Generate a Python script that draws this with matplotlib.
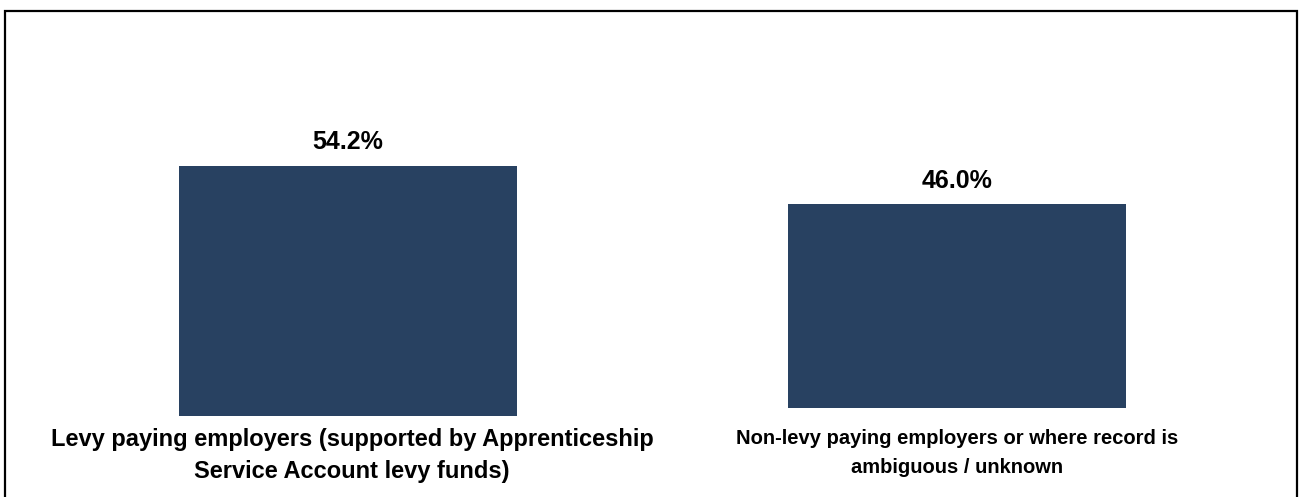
import matplotlib.pyplot as plt
from matplotlib.patches import Rectangle

plt.rcParams['font.family'] = ['Liberation Sans', 'DejaVu Sans']

categories = ["Levy paying employers (supported by Apprenticeship\nService Account levy funds)",
              "Non-levy paying employers or where record is\nambiguous / unknown"]
values = [54.2, 46.0]
value_labels = ["54.2%", "46.0%"]

bar_color = "#284161"
W, H = 1301, 497

fig = plt.figure(figsize=(W / 100, H / 100), dpi=100)

# outer frame (runs off the bottom edge)
fig.patches.append(Rectangle((5 / W, -0.05), 1292 / W, (H - 11) / H + 0.05,
                             transform=fig.transFigure, fill=False,
                             edgecolor="black", linewidth=1.6))

# each bar sits in its own panel:
# (left, bottom, width, px per unit, label pad, label size, line spacing, label x shift)
panels = [(98, 81.3, 500, 249.4 / 54.2, 9, 17, 1.5, 4),
          (707, 89.0, 500, 203.7 / 46.0, 15, 14.5, 1.7, 0)]
ymax = 60

for i, (left, bottom, width, scale, pad, fs, ls, dx) in enumerate(panels):
    ax = fig.add_axes([left / W, bottom / H, width / W, scale * ymax / H])
    ax.bar([0], [values[i]], width=338 / width, color=bar_color)
    ax.set_xlim(-0.5, 0.5)
    ax.set_ylim(0, ymax)
    ax.text(0, values[i] + 2.6, value_labels[i], ha="center", va="bottom",
            fontsize=18, fontweight="bold")
    ax.set_xticks([dx / width])
    ax.set_xticklabels([categories[i]], fontsize=fs, fontweight="bold",
                       linespacing=ls)
    ax.tick_params(axis="x", length=0, pad=pad)
    ax.set_yticks([])
    for s in ax.spines.values():
        s.set_visible(False)
    ax.patch.set_alpha(0)

fig.savefig("out.png", dpi=100)
